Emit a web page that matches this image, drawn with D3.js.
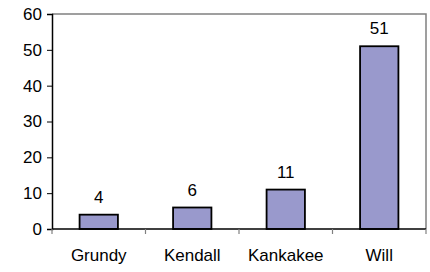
<!DOCTYPE html>
<html>
<head>
<meta charset="utf-8">
<script src="https://cdn.jsdelivr.net/npm/d3@7"></script>
<style>
  body { margin: 0; background: #fff; }
  svg { display: block; font-family: "Liberation Sans", Arial, sans-serif; }
</style>
</head>
<body>
<div id="chart"></div>
<script>
// data
const counties = ["Grundy", "Kendall", "Kankakee", "Will"];
const counts = [4, 6, 11, 51];
const yTicks = [0, 10, 20, 30, 40, 50, 60];

const width = 430;
const height = 272;
const margin = { top: 14, right: 4, bottom: 43, left: 52 };

const svg = d3.select("#chart")
  .append("svg")
  .attr("width", width)
  .attr("height", height);

const x = d3.scaleBand()
  .domain(counties)
  .range([margin.left, width - margin.right])
  .paddingInner(0.59)
  .paddingOuter(0.295);

const y = d3.scaleLinear()
  .domain([0, 60])
  .range([height - margin.bottom, margin.top]);

// plot frame (top + right in grey)
svg.append("path")
  .attr("d", `M${margin.left},${margin.top}H${width - margin.right}V${height - margin.bottom}`)
  .attr("fill", "none")
  .attr("stroke", "#808080")
  .attr("stroke-width", 1.5);

// bars
svg.append("g")
  .selectAll("rect")
  .data(counties)
  .join("rect")
  .attr("x", d => x(d))
  .attr("y", (d, i) => y(counts[i]))
  .attr("width", x.bandwidth())
  .attr("height", (d, i) => y(0) - y(counts[i]))
  .attr("fill", "#9999cc")
  .attr("stroke", "#000")
  .attr("stroke-width", 1.8);

// value labels
svg.append("g")
  .selectAll("text")
  .data(counties)
  .join("text")
  .attr("x", d => x(d) + x.bandwidth() / 2)
  .attr("y", (d, i) => y(counts[i]) - 12)
  .attr("text-anchor", "middle")
  .attr("font-size", 17)
  .attr("fill", "#000")
  .text((d, i) => counts[i]);

// y axis
const yAxis = svg.append("g")
  .attr("transform", `translate(${margin.left},0)`)
  .call(d3.axisLeft(y).tickValues(yTicks).tickSize(5).tickPadding(5));
yAxis.select(".domain").attr("stroke", "#000").attr("stroke-width", 1.5);
yAxis.selectAll(".tick line").attr("stroke", "#000");
yAxis.selectAll(".tick text")
  .attr("font-size", 17)
  .attr("font-family", "Liberation Sans, Arial, sans-serif")
  .attr("fill", "#000");

// x axis: boundaries between categories
const xAxis = svg.append("g")
  .attr("transform", `translate(0,${y(0)})`);
xAxis.append("line")
  .attr("x1", margin.left)
  .attr("x2", width - margin.right)
  .attr("stroke", "#000")
  .attr("stroke-width", 1.5);
const gap = (x.step() - x.bandwidth()) / 2;
const bounds = counties.map(d => x(d) - gap).concat([width - margin.right]);
xAxis.selectAll(".tk")
  .data(bounds)
  .join("line")
  .attr("x1", d => d)
  .attr("x2", d => d)
  .attr("y1", 0)
  .attr("y2", 5)
  .attr("stroke", "#808080")
  .attr("stroke-width", 1.2);
xAxis.selectAll(".lbl")
  .data(counties)
  .join("text")
  .attr("x", d => x(d) + x.bandwidth() / 2)
  .attr("y", 32)
  .attr("text-anchor", "middle")
  .attr("font-size", 17)
  .attr("fill", "#000")
  .text(d => d);
</script>
</body>
</html>
